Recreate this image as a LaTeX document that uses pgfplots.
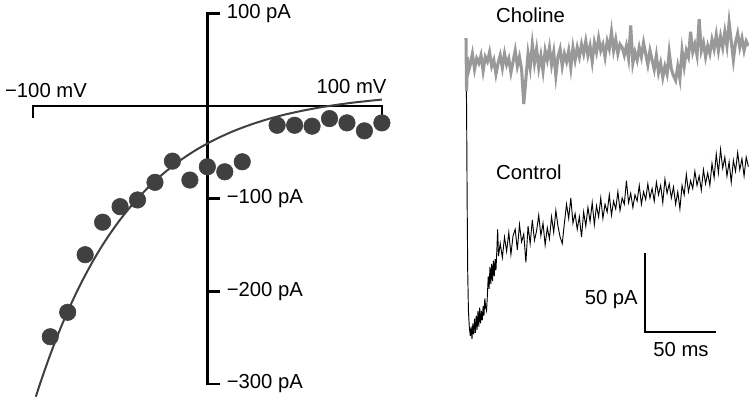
\documentclass[border=0pt]{standalone}
\usepackage{fontspec}
\setmainfont{Liberation Sans}
\usepackage{pgfplots}
\pgfplotsset{compat=1.18}

\definecolor{dotgray}{HTML}{404040}
\definecolor{cholgray}{HTML}{999999}

\begin{document}
\begin{tikzpicture}[lab/.style={font=\fontsize{15.2}{17}\selectfont, inner sep=0pt}]

% I-V relation
\begin{axis}[
    at={(155.5pt,220.5pt)}, anchor=origin,
    x=1.309pt, y=0.695pt,
    xmin=-100, xmax=100, ymin=-316, ymax=100,
    enlargelimits=false, hide axis, clip=false,
]
\draw[line width=1.8pt] (axis cs:-100,-13) -- (axis cs:-100,0) -- (axis cs:100,0) -- (axis cs:100,-11);
\draw[line width=1.8pt] (axis cs:0,-300) -- (axis cs:0,100);
\draw[line width=1.8pt] (axis cs:-0.7,100) -- (axis cs:7.3,100);
\draw[line width=1.8pt] (axis cs:-0.7,-100) -- (axis cs:7.3,-100);
\draw[line width=1.8pt] (axis cs:-0.7,-200) -- (axis cs:7.3,-200);
\draw[line width=1.8pt] (axis cs:-0.7,-300) -- (axis cs:7.3,-300);
\node[lab, anchor=west] at (axis cs:11,100) {100 pA};
\node[lab, anchor=west] at (axis cs:11,-100) {−100 pA};
\node[lab, anchor=west] at (axis cs:11,-200) {−200 pA};
\node[lab, anchor=west] at (axis cs:11,-300) {−300 pA};
\node[lab, anchor=base west] at (axis cs:-116,9.7) {−100 mV};
\node[lab, anchor=base east] at (axis cs:102.8,13.5) {100 mV};

\addplot[dotgray, line width=1.5pt, smooth] coordinates {
(-98.3,-313.7) (-95,-295) (-90,-268.3) (-85,-243.9) (-80,-221.6) (-75,-201.3)
(-70,-182.7) (-65,-165.6) (-60,-150.0) (-55,-135.8) (-50,-122.8) (-45,-110.9)
(-40,-100.0) (-35,-90) (-30,-80.9) (-25,-72.6) (-20,-65.0) (-15,-58)
(-10,-51.6) (-5,-45.8) (0,-40.5) (5,-35.6) (10,-31.2) (15,-27.1) (20,-23.4)
(25,-20) (30,-16.9) (35,-14) (40,-11.4) (45,-9) (50,-6.9) (55,-4.9) (60,-3.1)
(65,-1.4) (70,0.1) (75,1.5) (80,2.8) (85,4) (90,5.0) (95,6) (100,6.9)
};
\addplot[only marks, mark=*, mark size=6.2pt, mark options={fill=dotgray, draw=dotgray}] coordinates {
(-90,-249) (-80,-222.6) (-70,-160.5) (-60,-125.4) (-50,-108.6) (-40,-101.4)
(-30,-82.4) (-20,-59.5) (-10,-79.9) (0,-65.6) (10,-71) (20,-60.2)
(40,-20.8) (50,-20.8) (60,-21.8) (70,-13.6) (80,-18.2) (90,-26.8) (100,-18.2)
};
\end{axis}

% current traces
\begin{axis}[
    at={(349.5pt,255pt)}, anchor=origin,
    x=1.0695pt, y=1.176pt,
    xmin=0, xmax=198.5, ymin=-195, ymax=30,
    enlargelimits=false, hide axis, clip=false,
]
\addplot[black, line width=0.7pt] coordinates {
(0,0) (0.4,-30) (0.8,-90) (1.2,-135) (1.7,-160) (2.3,-170) (3,-176) (3.6,-170)
(4.2,-178) (4.8,-168) (5.4,-175) (6,-165) (6.6,-174) (7.2,-163) (7.8,-172)
(8.4,-160) (9,-170) (9.6,-158) (10.2,-168) (10.8,-160) (11.4,-166) (12,-157)
(12.6,-163) (13.2,-152) (13.8,-158) (14.4,-160) (15,-150) (15.6,-138) (16.2,-146)
(16.8,-132) (17.4,-143) (18,-130) (18.6,-141) (19.2,-128) (19.8,-138) (20.4,-127)
(21,-134) (21.6,-122) (22.2,-108) (22.8,-125)
(24,-117) (25.5,-126) (27,-113) (28.5,-122) (30,-110) (31.5,-124) (33,-112)
(34.5,-108) (36,-121) (37.5,-105) (39,-116) (40.5,-111) (42,-129) (43.5,-106)
(45,-117) (46.5,-102) (48,-115) (49.5,-109) (51,-99) (52.5,-112) (54,-104)
(55.5,-118) (57,-107) (58.5,-114) (60,-100) (61.5,-110) (63,-96) (64.5,-106)
(66,-113) (67.5,-117) (69,-104) (70.5,-92) (72,-101) (73.5,-88) (75,-104)
(76.5,-98) (78,-108) (79.5,-100) (81,-113) (82.5,-97) (84,-106) (85.5,-94)
(87,-103) (88.5,-91) (90,-105) (91.5,-93) (93,-100) (94.5,-88) (96,-101)
(97.5,-92) (99,-97) (100.5,-86) (102,-99) (103.5,-90) (105,-95) (106.5,-84)
(108,-96) (109.5,-88) (111,-92) (112.5,-77) (114,-91) (115.5,-85) (117,-94)
(118.5,-86) (120,-90) (121.5,-80) (123,-92) (124.5,-84) (126,-89) (127.5,-79)
(129,-88) (130.5,-82) (132,-90) (133.5,-78) (135,-86) (136.5,-80) (138,-91)
(139.5,-76) (141,-85) (142.5,-79) (144,-88) (145.5,-81) (147,-92) (148.5,-84)
(150,-95) (151.5,-80) (153,-86) (154.5,-73) (156,-84) (157.5,-77) (159,-82)
(160.5,-71) (162,-80) (163.5,-74) (165,-83) (166.5,-70) (168,-79) (169.5,-72)
(171,-80) (172.5,-66) (174,-75) (175.5,-60) (177,-72) (178.5,-57) (180,-69)
(181.5,-62) (183,-74) (184.5,-65) (186,-78) (187.5,-64) (189,-71) (190.5,-59)
(192,-70) (193.5,-63) (195,-74) (196.5,-62) (198,-68)
};
\addplot[cholgray, line width=2.3pt] coordinates {
(0,14) (0.4,-20) (1.0,2) (1.5,-8) (3,-3) (4.5,4) (6,-6) (7.5,1) (9,-2) (10.5,3)
(12,-7) (13.5,2) (15,-1) (16.5,5) (18,-4) (19.5,0) (21,-9) (22.5,-2) (24,3)
(25.5,-5) (27,4) (28.5,-3) (30,1) (31.5,-8) (33,-1) (34.5,6) (36,-4) (37.5,2)
(39,-6) (40.5,-28) (42,-12) (43.5,4) (45,-5) (46.5,10) (48,-2) (49.5,7) (51,-5)
(52.5,3) (54,-7) (55.5,6) (57,0) (58.5,8) (60,-3) (61.5,5) (63,-10) (64.5,2)
(66,7) (67.5,-4) (69,4) (70.5,-1) (72,6) (73.5,-5) (75,8) (76.5,0) (78,8)
(79.5,2) (81,10) (82.5,4) (84,12) (85.5,3) (87,9) (88.5,-1) (90,11) (91.5,5)
(93,14) (94.5,6) (96,10) (97.5,2) (99,12) (100.5,7) (102,18) (103.5,6) (105,13)
(106.5,4) (108,10) (109.5,8) (111,3) (112.5,9) (114,1) (115.5,22) (117,-2)
(118.5,5) (120,0) (121.5,8) (123,2) (124.5,11) (126,4) (127.5,-3) (129,6)
(130.5,0) (132,-6) (133.5,3) (135,-8) (136.5,-2) (138,-11) (139.5,-4) (141,-9)
(142.5,5) (144,-6) (145.5,-10) (147,-13) (148.5,-4) (150,-12) (151.5,6)
(153,-4) (154.5,6) (156,2) (157.5,18) (159,5) (160.5,10) (162,3) (163.5,26)
(165,6) (166.5,11) (168,2) (169.5,9) (171,4) (172.5,13) (174,7) (175.5,16)
(177,6) (178.5,15) (180,8) (181.5,18) (183,9) (184.5,24) (186,12) (187.5,0)
(189,11) (190.5,17) (192,8) (193.5,14) (195,6) (196.5,12) (198,9)
};
\draw[line width=1.6pt] (axis cs:125.3,-123.3) -- (axis cs:125.3,-173.3) -- (axis cs:175.3,-173.3);
\node[lab, anchor=base east] at (axis cs:120.6,-156) {50 pA};
\node[lab, anchor=base] at (axis cs:150.8,-189) {50 ms};
\node[lab, anchor=base west] at (axis cs:21,23.8) {Choline};
\node[lab, anchor=base west] at (axis cs:21,-76) {Control};
\end{axis}

\pgfresetboundingbox
\useasboundingbox (0,0) rectangle (561.75pt,300pt);
\end{tikzpicture}
\end{document}
